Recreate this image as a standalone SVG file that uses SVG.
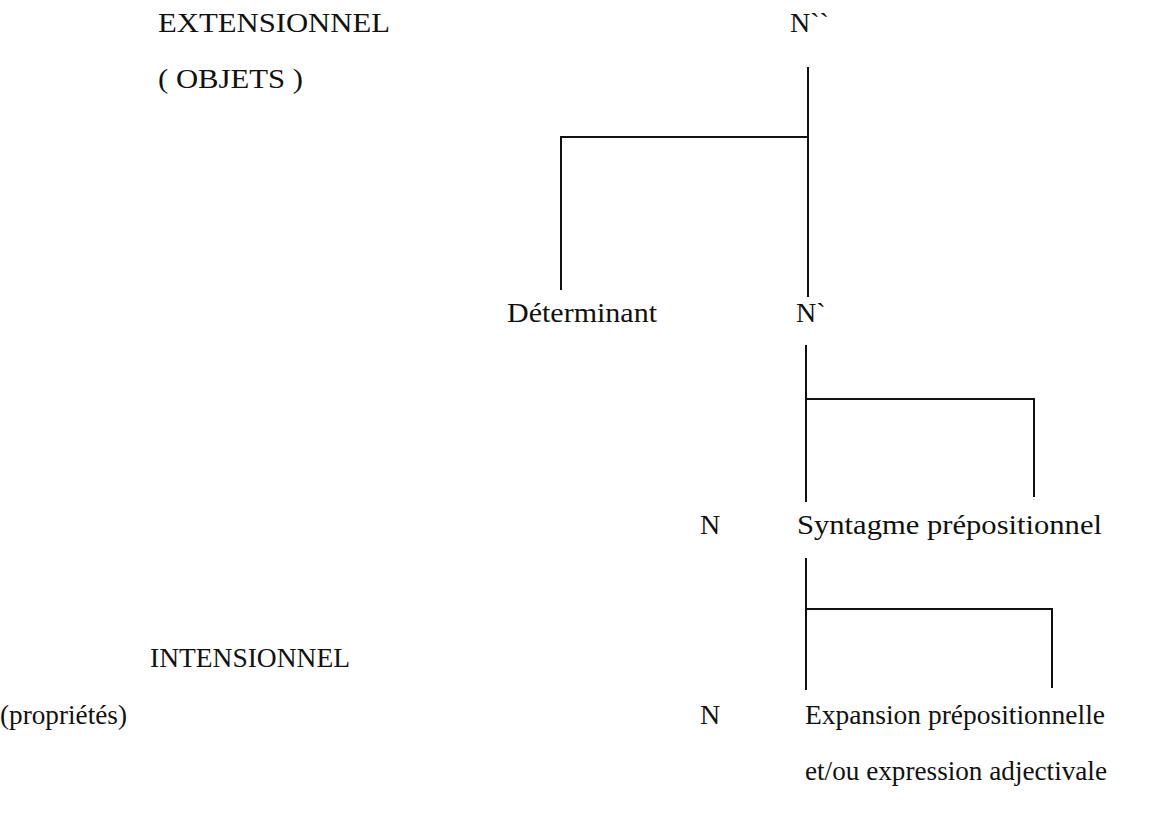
<svg xmlns="http://www.w3.org/2000/svg" width="1152" height="823" viewBox="0 0 1152 823">
<style>
text{font-family:"Liberation Serif","Times New Roman",serif;font-size:28px;fill:#111}
.l{stroke:#111;stroke-width:2;fill:none}
</style>
<rect width="1152" height="823" fill="#fff"/>
<g id="labels">
<text x="158" y="32" textLength="232" lengthAdjust="spacingAndGlyphs">EXTENSIONNEL</text>
<text x="158" y="88" textLength="145" lengthAdjust="spacingAndGlyphs">( OBJETS )</text>
<text x="150" y="667" textLength="200" lengthAdjust="spacingAndGlyphs">INTENSIONNEL</text>
<text x="0" y="724" textLength="127" lengthAdjust="spacingAndGlyphs">(propriétés)</text>
</g>
<g id="n2"><text x="790" y="32">N``</text></g>
<g id="det"><text x="507" y="322" textLength="150" lengthAdjust="spacingAndGlyphs">Déterminant</text></g>
<g id="n1"><text x="796" y="322">N`</text></g>
<g id="nA"><text x="700" y="534">N</text></g>
<g id="sp"><text x="797" y="534" textLength="305" lengthAdjust="spacingAndGlyphs">Syntagme prépositionnel</text></g>
<g id="nB"><text x="700" y="724">N</text></g>
<g id="ep">
<text x="805" y="724" textLength="300" lengthAdjust="spacingAndGlyphs">Expansion prépositionnelle</text>
<text x="805" y="780" textLength="302" lengthAdjust="spacingAndGlyphs">et/ou expression adjectivale</text>
</g>
<g id="connectors">
<path class="l" d="M808 67V297M808 137H561V290"/>
<path class="l" d="M806 345V502M806 399H1034V497"/>
<path class="l" d="M806 558V690M806 609H1052V688"/>
</g>
</svg>
